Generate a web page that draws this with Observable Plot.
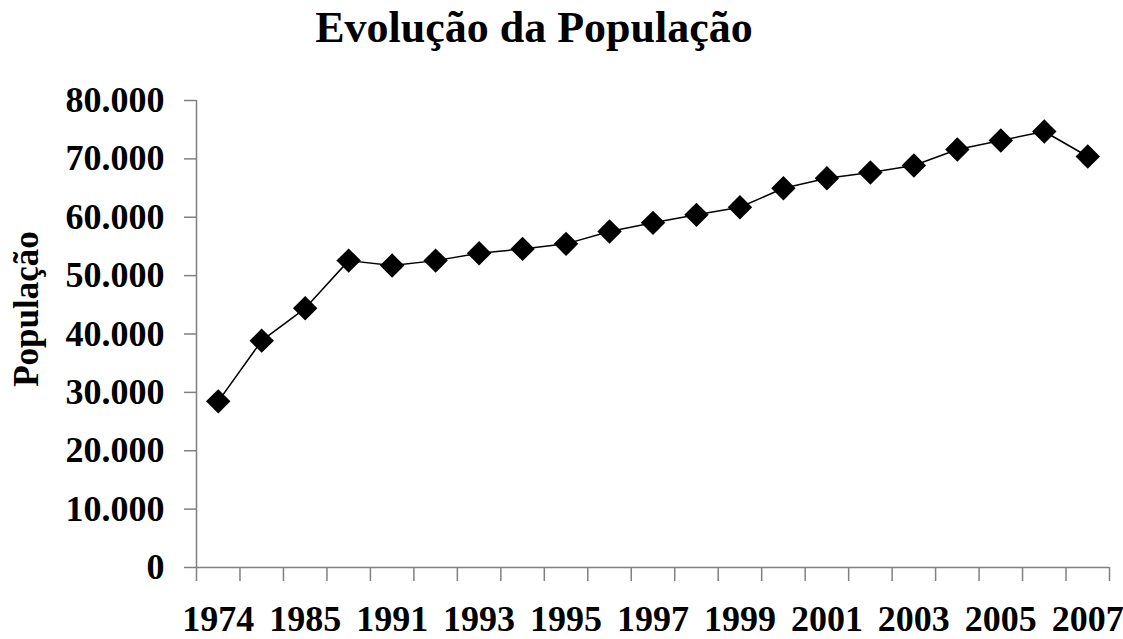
<!DOCTYPE html>
<html><head><meta charset="utf-8">
<script src="https://cdn.jsdelivr.net/npm/d3@7"></script>
<script src="https://cdn.jsdelivr.net/npm/@observablehq/plot@0.6"></script>
<style>
body{margin:0;background:#fff;font-family:"Liberation Serif","Times New Roman",serif;}
#title{width:1068px;height:70px;box-sizing:border-box;padding-top:6px;text-align:center;font-size:44px;font-weight:bold;line-height:1;color:#000;white-space:nowrap;}
</style></head><body>
<div id="title">Evolução da População</div>
<div id="chart"></div>
<script>
const years = ["1974","1980","1985","1990","1991","1992","1993","1994","1995","1996","1997","1998","1999","2000","2001","2002","2003","2004","2005","2006","2007"];
const population = [28460,38860,44400,52570,51720,52570,53830,54580,55440,57550,59040,60410,61720,64970,66690,67670,68870,71610,73150,74690,70410];
const yTicks = [0,10000,20000,30000,40000,50000,60000,70000,80000];
const labelYears = ["1974","1985","1991","1993","1995","1997","1999","2001","2003","2005","2007"];
const yLabel = "População";

const data = years.map((year, i) => ({year, i, population: population[i]}));
const fmt = d3.formatLocale({decimal:",", thousands:".", grouping:[3], currency:["",""]}).format(",");

const plot = Plot.plot({
  width:1123, height:569,
  marginTop:30, marginRight:14, marginBottom:72, marginLeft:196,
  style:{fontFamily:"'Liberation Serif', 'Times New Roman', serif", fontWeight:"bold", fontSize:"36px", color:"#000", background:"#fff", overflow:"visible"},
  x:{type:"linear", domain:[0, years.length], axis:null},
  y:{domain:[0,80000], axis:null},
  marks:[
    Plot.axisY(yTicks, {tickSize:12, tickPadding:20, tickFormat:fmt, stroke:"#808080", strokeWidth:1.5, label:null, fontSize:36, fontWeight:"bold"}),
    Plot.axisX(d3.range(years.length + 1), {tickSize:14, tickFormat:() => "", stroke:"#808080", strokeWidth:1.5, label:null}),
    Plot.axisX(labelYears.map(y => years.indexOf(y) + 0.5), {tickSize:0, tickPadding:38, tickFormat:v => years[Math.round(v - 0.5)], label:null, fontSize:36, fontWeight:"bold"}),
    Plot.ruleX([0], {stroke:"#808080", strokeWidth:1.5}),
    Plot.ruleY([0], {stroke:"#808080", strokeWidth:1.5}),
    Plot.line(data, {x:d => d.i + 0.5, y:"population", stroke:"#000", strokeWidth:1.5}),
    Plot.dot(data, {x:d => d.i + 0.5, y:"population", symbol:"diamond2", r:11, fill:"#000", stroke:"none"}),
    Plot.text([yLabel], {frameAnchor:"left", textAnchor:"middle", rotate:-90, lineAnchor:"top", dx:-183, dy:-25, fontSize:35, fontWeight:"bold", fill:"#000"})
  ]
});
document.getElementById("chart").appendChild(plot);
</script>
</body></html>
